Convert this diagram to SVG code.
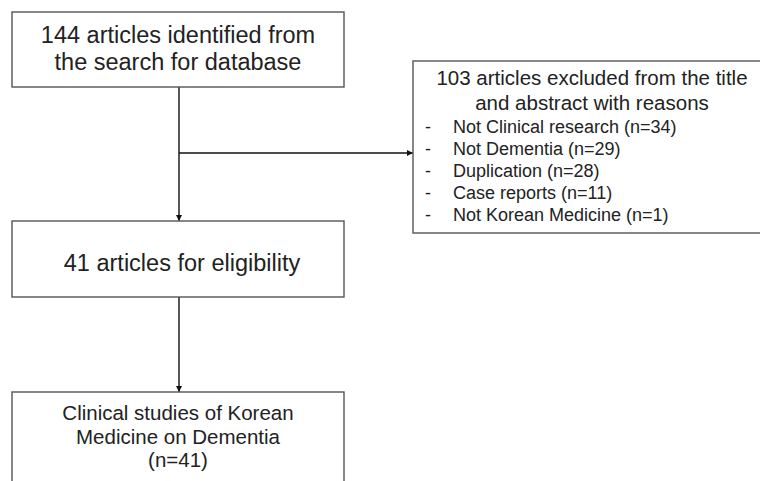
<svg xmlns="http://www.w3.org/2000/svg" width="760" height="481" viewBox="0 0 760 481">
<style>
  .box { fill: #ffffff; stroke: #555555; stroke-width: 1.4; }
  .t { font-family: "Liberation Sans", Arial, sans-serif; fill: #222222; }
  .big { font-size: 23.5px; text-anchor: middle; }
  .mid { font-size: 20.5px; text-anchor: middle; }
  .sm { font-size: 18px; }
  .conn { stroke: #111111; stroke-width: 1.4; fill: none; }
</style>
<defs>
  <marker id="arr" viewBox="0 0 10 10" refX="10" refY="5" markerWidth="6" markerHeight="6" markerUnits="userSpaceOnUse" orient="auto">
    <path d="M0,0 L10,5 L0,10 Z" fill="#111111"/>
  </marker>
</defs>
<rect width="760" height="481" fill="#ffffff"/>
<g id="connectors">
  <line class="conn" x1="179" y1="87" x2="179" y2="221" marker-end="url(#arr)"/>
  <line class="conn" x1="179" y1="153" x2="413" y2="153" marker-end="url(#arr)"/>
  <line class="conn" x1="179" y1="297" x2="179" y2="392" marker-end="url(#arr)"/>
</g>
<g id="node-identified">
  <rect class="box" x="12" y="12" width="332" height="75"/>
  <text class="t big" x="178" y="43">144 articles identified from</text>
  <text class="t big" x="178" y="70">the search for database</text>
</g>
<g id="node-excluded">
  <rect class="box" x="413" y="61" width="360" height="172"/>
  <text class="t mid" x="592" y="85">103 articles excluded from the title</text>
  <text class="t mid" x="592" y="110">and abstract with reasons</text>
  <text class="t sm" x="425" y="133">-</text>
  <text class="t sm" x="453" y="133">Not Clinical research (n=34)</text>
  <text class="t sm" x="425" y="155">-</text>
  <text class="t sm" x="453" y="155">Not Dementia (n=29)</text>
  <text class="t sm" x="425" y="177">-</text>
  <text class="t sm" x="453" y="177">Duplication (n=28)</text>
  <text class="t sm" x="425" y="199">-</text>
  <text class="t sm" x="453" y="199">Case reports (n=11)</text>
  <text class="t sm" x="425" y="221">-</text>
  <text class="t sm" x="453" y="221">Not Korean Medicine (n=1)</text>
</g>
<g id="node-eligibility">
  <rect class="box" x="12" y="221" width="332" height="76"/>
  <text class="t big" x="182" y="271">41 articles for eligibility</text>
</g>
<g id="node-included">
  <rect class="box" x="12" y="392" width="332" height="100"/>
  <text class="t mid" x="178" y="420">Clinical studies of Korean</text>
  <text class="t mid" x="178" y="444">Medicine on Dementia</text>
  <text class="t mid" x="178" y="467">(n=41)</text>
</g>
</svg>
